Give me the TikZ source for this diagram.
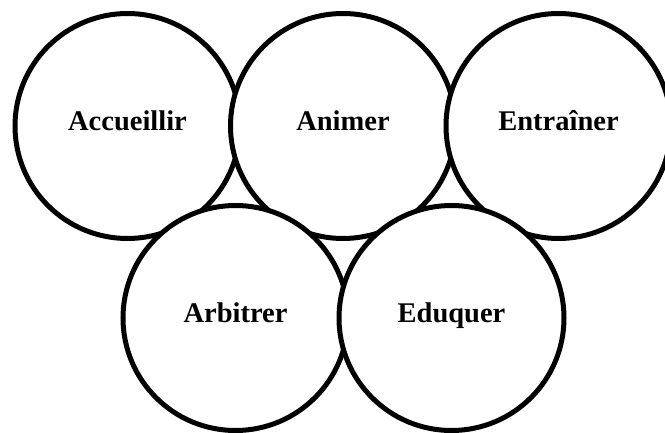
\documentclass[tikz,border=0pt]{standalone}
\usepackage{fontspec}
\setmainfont{Liberation Serif}
\begin{document}
\begin{tikzpicture}[x=1pt,y=1pt,
  ring/.style={circle, draw=black, fill=white, line width=5pt, minimum size=225pt, inner sep=0pt,
    text height=0.9em, text depth=0pt, font=\fontsize{28.5}{30}\selectfont\bfseries}]
\useasboundingbox (0,0) rectangle (665,432);
\clip (0,0) rectangle (665,432);
\node[ring] (acc) at (127.5,306) {Accueillir};
\node[ring] (ani) at (343,306) {Animer};
\node[ring] (ent) at (558.5,306) {Entraîner};
\node[ring] (arb) at (235.5,114) {Arbitrer};
\node[ring] (edu) at (451.5,114) {Eduquer};
\end{tikzpicture}
\end{document}
